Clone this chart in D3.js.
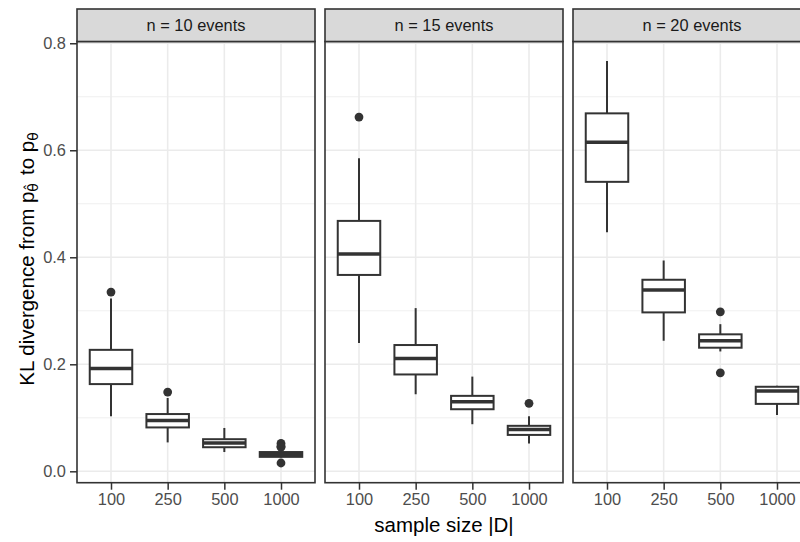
<!DOCTYPE html>
<html>
<head>
<meta charset="utf-8">
<script src="https://cdn.jsdelivr.net/npm/d3@7"></script>
<style>
  body { margin: 0; background: #fff; }
  text { font-family: "Liberation Sans", Arial, sans-serif; }
</style>
</head>
<body>
<div id="chart"></div>
<script>
// facet labels and x categories
var panels = ["n = 10 events", "n = 15 events", "n = 20 events"];
var sizes = ["100", "250", "500", "1000"];
var yTicks = [0, 0.2, 0.4, 0.6, 0.8];
var yMinor = [0.1, 0.3, 0.5, 0.7];

// box stats, one row per panel, one value per sample size
var whiskerLow = [[0.103, 0.054, 0.036, 0.026], [0.240, 0.144, 0.088, 0.052], [0.447, 0.244, 0.224, 0.105]];
var q1         = [[0.163, 0.082, 0.045, 0.027], [0.367, 0.181, 0.116, 0.068], [0.541, 0.297, 0.231, 0.126]];
var median     = [[0.192, 0.095, 0.053, 0.032], [0.406, 0.211, 0.130, 0.078], [0.615, 0.339, 0.244, 0.150]];
var q3         = [[0.227, 0.107, 0.060, 0.036], [0.468, 0.236, 0.141, 0.085], [0.669, 0.358, 0.256, 0.158]];
var whiskerHigh= [[0.323, 0.137, 0.081, 0.038], [0.585, 0.305, 0.177, 0.103], [0.767, 0.394, 0.275, 0.160]];
var outliers   = [[[0.335], [0.148], [], [0.052, 0.047, 0.045, 0.0155]],
                  [[0.662], [], [], [0.127]],
                  [[], [], [0.298, 0.184], []]];

var W = 800, H = 542;
var margin = {top: 41.5, left: 77, bottom: 59.3},
    panelW = 238, gap = 10, stripH = 32.5,
    plotH = H - margin.top - margin.bottom;

var svg = d3.select("#chart").append("svg")
    .attr("width", W)
    .attr("height", H);

var y = d3.scaleLinear()
    .domain([-0.0213, 0.8033])
    .range([plotH, 0]);

var x = d3.scalePoint()
    .domain(sizes)
    .range([0, panelW])
    .padding(0.6);
var boxW = x.step() * 0.75;

panels.forEach(function(label, p) {
    var g = svg.append("g")
        .attr("transform", "translate(" + (margin.left + p * (panelW + gap)) + "," + margin.top + ")");

    // background grid
    g.selectAll(".minor").data(yMinor).enter().append("line")
        .attr("x1", 0).attr("x2", panelW)
        .attr("y1", function(d) { return y(d); })
        .attr("y2", function(d) { return y(d); })
        .style("stroke", "#ebebeb").style("stroke-width", 0.8);
    g.selectAll(".major").data(yTicks).enter().append("line")
        .attr("x1", 0).attr("x2", panelW)
        .attr("y1", function(d) { return y(d); })
        .attr("y2", function(d) { return y(d); })
        .style("stroke", "#ebebeb").style("stroke-width", 1.6);
    g.selectAll(".vgrid").data(sizes).enter().append("line")
        .attr("x1", function(d) { return x(d); })
        .attr("x2", function(d) { return x(d); })
        .attr("y1", 0).attr("y2", plotH)
        .style("stroke", "#ebebeb").style("stroke-width", 1.6);

    // boxes
    var rows = sizes.map(function(s, i) {
        return {s: s, lo: whiskerLow[p][i], q1: q1[p][i], med: median[p][i],
                q3: q3[p][i], hi: whiskerHigh[p][i], out: outliers[p][i]};
    });
    var box = g.selectAll(".box").data(rows).enter().append("g");

    box.append("line")
        .attr("x1", function(d) { return x(d.s); })
        .attr("x2", function(d) { return x(d.s); })
        .attr("y1", function(d) { return y(d.hi); })
        .attr("y2", function(d) { return y(d.q3); })
        .style("stroke", "#333").style("stroke-width", 2);
    box.append("line")
        .attr("x1", function(d) { return x(d.s); })
        .attr("x2", function(d) { return x(d.s); })
        .attr("y1", function(d) { return y(d.q1); })
        .attr("y2", function(d) { return y(d.lo); })
        .style("stroke", "#333").style("stroke-width", 2);
    box.append("rect")
        .attr("x", function(d) { return x(d.s) - boxW / 2; })
        .attr("y", function(d) { return y(d.q3); })
        .attr("width", boxW)
        .attr("height", function(d) { return y(d.q1) - y(d.q3); })
        .style("fill", "white")
        .style("stroke", "#333").style("stroke-width", 2);
    box.append("line")
        .attr("x1", function(d) { return x(d.s) - boxW / 2; })
        .attr("x2", function(d) { return x(d.s) + boxW / 2; })
        .attr("y1", function(d) { return y(d.med); })
        .attr("y2", function(d) { return y(d.med); })
        .style("stroke", "#333").style("stroke-width", 3.5);
    box.selectAll("circle")
        .data(function(d) { return d.out.map(function(v) { return {s: d.s, v: v}; }); })
        .enter().append("circle")
        .attr("cx", function(d) { return x(d.s); })
        .attr("cy", function(d) { return y(d.v); })
        .attr("r", 4.4)
        .style("fill", "#333");

    // panel border
    g.append("rect")
        .attr("x", 0).attr("y", 0)
        .attr("width", panelW).attr("height", plotH)
        .style("fill", "none").style("stroke", "#333").style("stroke-width", 1.6);

    // strip
    g.append("rect")
        .attr("x", 0).attr("y", -stripH)
        .attr("width", panelW).attr("height", stripH)
        .style("fill", "#d9d9d9").style("stroke", "#333").style("stroke-width", 1.6);
    g.append("text")
        .attr("x", panelW / 2).attr("y", -stripH / 2 + 6)
        .attr("text-anchor", "middle")
        .style("font-size", "16.4px").style("fill", "#1a1a1a")
        .text(label);

    // x axis
    var xa = g.append("g")
        .attr("transform", "translate(0," + plotH + ")")
        .call(d3.axisBottom(x).tickSize(7).tickPadding(4));
    xa.select(".domain").remove();
    xa.selectAll(".tick line").style("stroke", "#333").style("stroke-width", 1.5);
    xa.selectAll(".tick text")
        .style("font-size", "16.4px").style("fill", "#4d4d4d")
        .style("font-family", "'Liberation Sans', Arial, sans-serif");

    // y axis on first panel only
    if (p === 0) {
        var ya = g.append("g")
            .call(d3.axisLeft(y).tickValues(yTicks).tickFormat(d3.format(".1f")).tickSize(7).tickPadding(4));
        ya.select(".domain").remove();
        ya.selectAll(".tick line").style("stroke", "#333").style("stroke-width", 1.5);
        ya.selectAll(".tick text")
            .style("font-size", "16.4px").style("fill", "#4d4d4d")
            .style("font-family", "'Liberation Sans', Arial, sans-serif");
    }
});

// axis titles
svg.append("text")
    .attr("x", 444).attr("y", 531.5)
    .attr("text-anchor", "middle")
    .style("font-size", "20.5px").style("fill", "#000")
    .text("sample size |D|");

var yt = svg.append("text")
    .attr("transform", "translate(34,259) rotate(-90)")
    .attr("text-anchor", "middle")
    .style("font-size", "20.5px").style("fill", "#000");
yt.append("tspan").text("KL divergence from p");
yt.append("tspan").attr("dy", 4)
    .style("font-size", "14px").style("font-family", "'DejaVu Sans', sans-serif")
    .text("θ\u0302");
yt.append("tspan").attr("dy", -4).attr("dx", 8).text("to p");
yt.append("tspan").attr("dy", 4)
    .style("font-size", "14px").style("font-family", "'DejaVu Sans', sans-serif")
    .text("θ");
</script>
</body>
</html>
